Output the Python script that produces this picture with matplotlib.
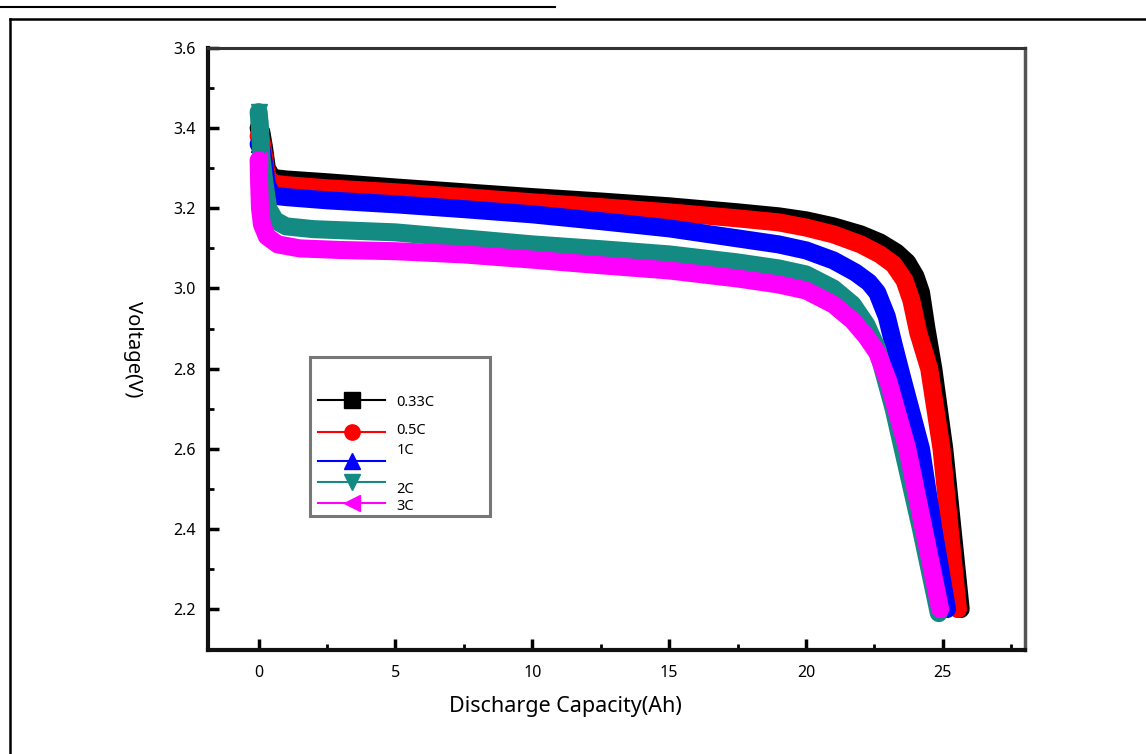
"""Discharge curves at different C-rates (voltage vs discharge capacity)."""

import matplotlib

matplotlib.use("Agg")
import matplotlib.pyplot as plt
from matplotlib.lines import Line2D
from matplotlib.patches import Rectangle

plt.rcParams["font.family"] = ["Noto Sans", "DejaVu Sans"]

# ---------------------------------------------------------------------------
# Data
# ---------------------------------------------------------------------------

LABELS = ["0.33C", "0.5C", "1C", "2C", "3C"]
COLORS = ["#000000", "#ff0000", "#0000ff", "#138a82", "#ff00ff"]
MARKERS = ["s", "o", "^", "v", "<"]

cap_033 = [0.0, 0.1, 0.2, 0.3, 0.5, 1.0, 2.5, 5.0, 7.5, 10.0, 12.5, 15.0, 17.5,
           19.0, 20.0, 21.0, 22.0, 22.7, 23.3, 23.7, 24.0, 24.2, 24.4, 24.65,
           25.05, 25.35, 25.65]
volt_033 = [3.40, 3.39, 3.35, 3.30, 3.276, 3.272, 3.265, 3.252, 3.24, 3.228, 3.217,
            3.205, 3.19, 3.18, 3.17, 3.155, 3.135, 3.115, 3.09, 3.065, 3.03, 2.99,
            2.90, 2.80, 2.60, 2.40, 2.20]

cap_05 = [0.0, 0.1, 0.2, 0.3, 0.5, 1.0, 2.5, 5.0, 7.5, 10.0, 12.5, 15.0, 17.5,
          19.0, 20.0, 21.0, 22.0, 22.7, 23.2, 23.6, 23.85, 24.1, 24.5, 24.95,
          25.25, 25.55]
volt_05 = [3.38, 3.37, 3.33, 3.28, 3.262, 3.258, 3.25, 3.24, 3.228, 3.215, 3.203,
           3.19, 3.175, 3.165, 3.152, 3.135, 3.11, 3.085, 3.06, 3.02, 2.97, 2.89,
           2.80, 2.60, 2.40, 2.20]

cap_1 = [0.0, 0.1, 0.2, 0.3, 0.5, 1.0, 2.5, 5.0, 7.5, 10.0, 12.5, 15.0, 17.5,
         19.0, 20.0, 21.0, 21.8, 22.3, 22.6, 22.95, 23.2, 23.5, 24.2, 24.65, 25.15]
volt_1 = [3.36, 3.35, 3.31, 3.26, 3.232, 3.228, 3.22, 3.21, 3.198, 3.185, 3.168,
          3.15, 3.125, 3.11, 3.095, 3.07, 3.04, 3.015, 2.99, 2.93, 2.86, 2.78,
          2.60, 2.40, 2.20]

cap_2 = [0.0, 0.05, 0.1, 0.2, 0.35, 0.6, 1.0, 2.0, 5.0, 7.5, 10.0, 12.5, 15.0,
         17.5, 19.0, 20.0, 21.0, 21.7, 22.2, 22.6, 23.2, 23.7, 24.2, 24.85]
volt_2 = [3.44, 3.40, 3.33, 3.27, 3.20, 3.17, 3.155, 3.148, 3.14, 3.125, 3.11,
          3.098, 3.085, 3.065, 3.05, 3.035, 3.00, 2.96, 2.91, 2.85, 2.70, 2.55,
          2.40, 2.19]

cap_3 = [0.0, 0.02, 0.05, 0.12, 0.3, 0.7, 1.5, 3.0, 5.0, 7.5, 10.0, 12.5, 15.0,
         17.5, 19.0, 20.0, 21.0, 21.7, 22.2, 22.6, 23.0, 23.7, 24.3, 24.9]
volt_3 = [3.32, 3.26, 3.20, 3.16, 3.13, 3.11, 3.10, 3.096, 3.093, 3.085, 3.072,
          3.058, 3.045, 3.025, 3.01, 2.995, 2.96, 2.92, 2.88, 2.84, 2.77, 2.60,
          2.40, 2.20]

SERIES = [(cap_033, volt_033), (cap_05, volt_05), (cap_1, volt_1),
          (cap_2, volt_2), (cap_3, volt_3)]

X_TICKS = [0, 5, 10, 15, 20, 25]
Y_TICKS = [2.2, 2.4, 2.6, 2.8, 3.0, 3.2, 3.4, 3.6]


def main() -> None:
    fig = plt.figure(figsize=(11.46, 7.54), dpi=100)
    ax = fig.add_axes([208 / 1146, 104 / 754, 817 / 1146, 602 / 754])

    # document frame around the figure
    fig.add_artist(Line2D([0.0, 555 / 1146], [1 - 7 / 754] * 2, color="black", lw=1.5))
    fig.add_artist(Line2D([10 / 1146, 10 / 1146], [0.0, 1 - 19 / 754], color="black", lw=1.8))
    fig.add_artist(Line2D([10 / 1146, 1.0], [1 - 19 / 754] * 2, color="black", lw=1.8))

    # thick bands, drawn in the original order (3C ends on top)
    for (cap, volt), color, marker in zip(SERIES, COLORS, MARKERS):
        ax.plot(cap, volt, color=color, lw=13, solid_capstyle="round",
                solid_joinstyle="round", zorder=2)
        ax.plot(cap[:1], volt[:1], color=color, marker=marker, ms=12,
                linestyle="none", zorder=2)

    ax.set_xlim(-1.85, 28.0)
    ax.set_ylim(2.098, 3.6)
    ax.set_xticks(X_TICKS)
    ax.set_xticks([2.5, 7.5, 12.5, 17.5, 22.5, 27.5], minor=True)
    ax.set_yticks(Y_TICKS)
    ax.set_yticks([2.3, 2.5, 2.7, 2.9, 3.1, 3.3, 3.5], minor=True)
    ax.set_yticklabels([f"{v:.1f}" for v in Y_TICKS])

    ax.tick_params(which="major", direction="in", length=8, width=2.5,
                   labelsize=11.5, pad=11)
    ax.tick_params(axis="y", which="major", pad=9)
    ax.tick_params(which="minor", direction="in", length=4, width=2)
    ax.tick_params(top=False, right=False, which="both")

    for side in ("left", "bottom"):
        ax.spines[side].set_linewidth(3)
        ax.spines[side].set_color("#111111")
    ax.spines["top"].set_linewidth(2.2)
    ax.spines["top"].set_color("#333333")
    ax.spines["right"].set_linewidth(2.5)
    ax.spines["right"].set_color("#555555")

    ax.set_xlabel("Discharge Capacity(Ah)", fontsize=15.5)
    ax.xaxis.set_label_coords(0.437, -0.076)
    ax.set_ylabel("Voltage(V)", fontsize=14.5, rotation=270, va="center")
    ax.yaxis.set_label_coords(-0.092, 0.5)

    # hand-built legend (labels are not aligned evenly in the original)
    ax.add_patch(Rectangle((0.125, 0.223), 0.22, 0.264, transform=ax.transAxes,
                           facecolor="white", edgecolor="#777777", lw=2.2, zorder=5))
    entry_y = [0.415, 0.362, 0.314, 0.279, 0.244]
    label_y = [0.411, 0.365, 0.332, 0.266, 0.239]
    for lab, color, marker, ly, ty in zip(LABELS, COLORS, MARKERS, entry_y, label_y):
        ax.plot([0.135, 0.217], [ly, ly], transform=ax.transAxes, color=color,
                lw=1.5, zorder=6, clip_on=False)
        ax.plot([0.176], [ly], transform=ax.transAxes, color=color, marker=marker,
                ms=11, zorder=7, clip_on=False)
        ax.text(0.231, ty, lab, transform=ax.transAxes, fontsize=10.5,
                va="center", ha="left", zorder=7)

    fig.savefig("out.png", dpi=100)
    plt.close(fig)


if __name__ == "__main__":
    main()
